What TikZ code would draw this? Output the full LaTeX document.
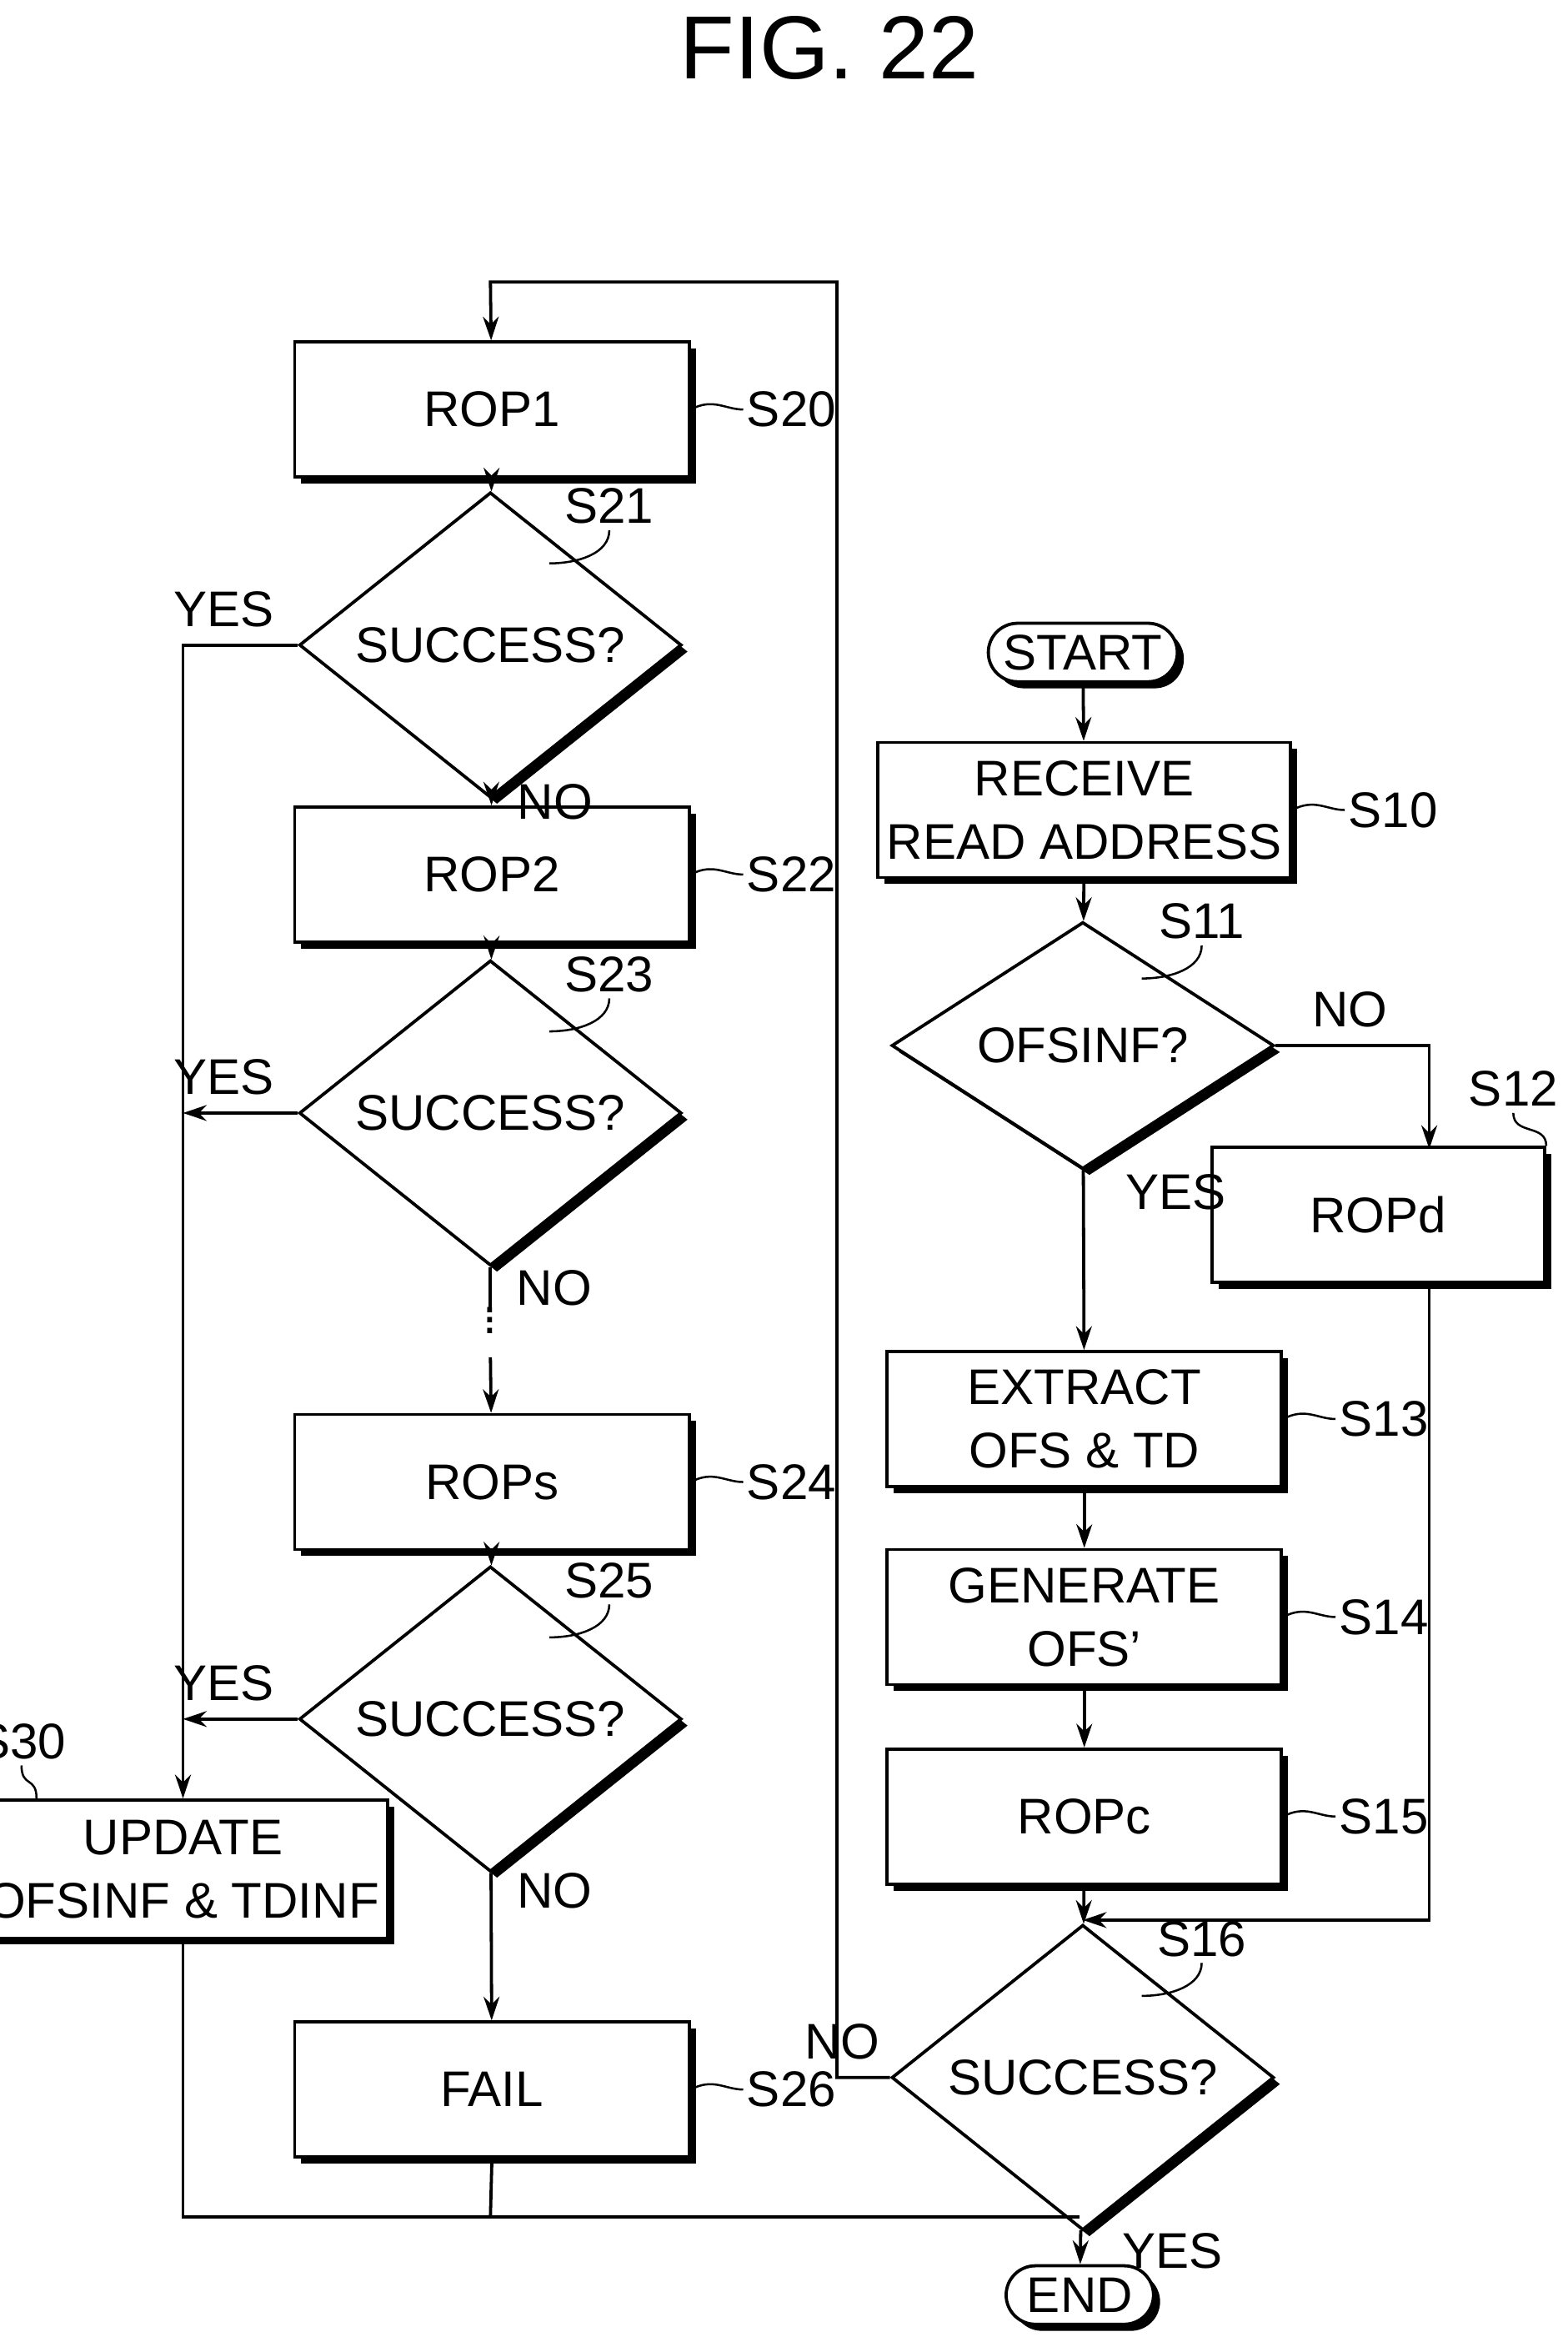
\documentclass[tikz,border=0pt]{standalone}
\usepackage{fontspec}
\setmainfont{Liberation Sans}
\usetikzlibrary{shapes.geometric,shapes.misc,shadows,arrows.meta,positioning}

\tikzset{
  every node/.style={font=\fontsize{19}{24}\selectfont},
  heavy/.style={drop shadow={shadow xshift=2.5pt,shadow yshift=-2.5pt,fill=black,opacity=1}},
  proc/.style={draw,line width=1.2pt,fill=white,heavy,minimum width=5.26cm,minimum height=1.8cm,align=center},
  test/.style={draw,diamond,line width=1.2pt,fill=white,heavy,minimum width=5.1cm,minimum height=2.7cm,inner sep=0pt},
  term/.style={draw,rounded rectangle,line width=1.2pt,fill=white,heavy,minimum width=2.2cm,minimum height=0.78cm},
  flow/.style={line width=1.2pt,-{Stealth[length=9pt,width=6pt]}},
  line/.style={line width=1.2pt},
  tag/.style={line width=0.8pt}
}

\begin{document}
\begin{tikzpicture}[x=0.02cm,y=-0.02cm]
  \useasboundingbox (0,0) rectangle (1045,1568);
  \node (title) at (553,32) {\fontsize{34}{40}\selectfont FIG.\ 22};

  % left column
  \node[proc] (s20) at (328,273) {ROP1};
  \node[test] (s21) at (327,430) {SUCCESS?};
  \node[proc] (s22) at (328,583) {ROP2};
  \node[test] (s23) at (327,742) {SUCCESS?};
  \node (dots) at (327,875) {$\vdots$};
  \node[proc] (s24) at (328,988) {ROPs};
  \node[test] (s25) at (327,1146) {SUCCESS?};
  \node[proc] (s26) at (328,1393) {FAIL};
  \node[proc,minimum width=4.38cm,minimum height=1.84cm] (s30) at (122,1246) {UPDATE\\OFSINF \& TDINF};

  % right column
  \node[term] (start) at (722,435) {START};
  \node[proc] (s10) at (723,540) {RECEIVE\\READ ADDRESS};
  \node[test] (s11) at (722,697) {OFSINF?};
  \node[proc,minimum width=4.44cm] (s12) at (919,810) {ROPd};
  \node[proc] (s13) at (723,946) {EXTRACT\\OFS \& TD};
  \node[proc] (s14) at (723,1078) {GENERATE\\OFS'};
  \node[proc] (s15) at (723,1211) {ROPc};
  \node[test] (s16) at (722,1385) {SUCCESS?};
  \node[term] (end) at (720,1530) {END};

  % step tags
  \foreach \n/\t in {s20/S20,s22/S22,s24/S24,s26/S26,s10/S10,s13/S13,s14/S14,s15/S15} {
    \draw[tag] (\n.east) .. controls +(15,-8) and +(-12,0) .. ++(35,0) node[right,inner sep=1pt] {\t};
  }
  \foreach \n/\t in {s21/S21,s23/S23,s25/S25,s11/S11,s16/S16} {
    \draw[tag] (\n.north east) ++(-25,-3) .. controls +(20,0) and +(0,15) .. ++(40,-22) node[above,inner sep=2pt] {\t};
  }
  \draw[tag] (s12.north east) .. controls +(0,-15) and +(0,15) .. ++(-22,-22) node[above,inner sep=2pt] {S12};
  \draw[tag] (s30.north west) ++(40,0) .. controls +(0,-15) and +(0,15) .. ++(-10,-22) node[above,inner sep=2pt] {S30};

  % left flow
  \coordinate (top) at (327,188);
  \coordinate (rail) at (558,188);
  \draw[flow] (s20) -- (s21);
  \draw[flow] (s21) -- node[right=6pt,pos=0.45] {NO} (s22);
  \draw[flow] (s22) -- (s23);
  \draw[line] (s23.south) -- node[right=6pt] {NO} ++(0,28);
  \draw[flow] (327,905) -- (s24);
  \draw[flow] (s24) -- (s25);
  \draw[flow] (s25) -- node[right=6pt,pos=0.12] {NO} (s26);
  \coordinate (y21) at (122,430);
  \draw[flow] (s21.west) node[above left=3pt and 5pt] {YES} -- (y21) -- (s30.north);
  \draw[flow] (s23.west) node[above left=3pt and 5pt] {YES} -- (122,742);
  \draw[flow] (s25.west) node[above left=3pt and 5pt] {YES} -- (122,1146);
  \coordinate (join) at (720,1478);
  \draw[line] (s30.south) -- (122,1478) -- (join);
  \draw[line] (s26.south) -- (327,1478);

  % right flow
  \draw[flow] (start) -- (s10);
  \draw[flow] (s10) -- (s11);
  \draw[flow] (s11.east) node[above right=3pt and 10pt] {NO} -- (953,697) -- (953,766);
  \draw[flow] (s11) -- node[right=12pt,pos=0.12] {YES} (s13);
  \draw[flow] (s13) -- (s14);
  \draw[flow] (s14) -- (s15);
  \draw[flow] (s15) -- (s16);
  \draw[flow] (953,855) -- (953,1280) -- (722,1280);
  \draw[flow] (s16.west) node[above left=3pt and 0pt] {NO} -- (558,1385) -- (rail) -- (top) -- (s20);
  \draw[flow] (s16) -- node[right=12pt,pos=0.6] {YES} (end);
\end{tikzpicture}
\end{document}
